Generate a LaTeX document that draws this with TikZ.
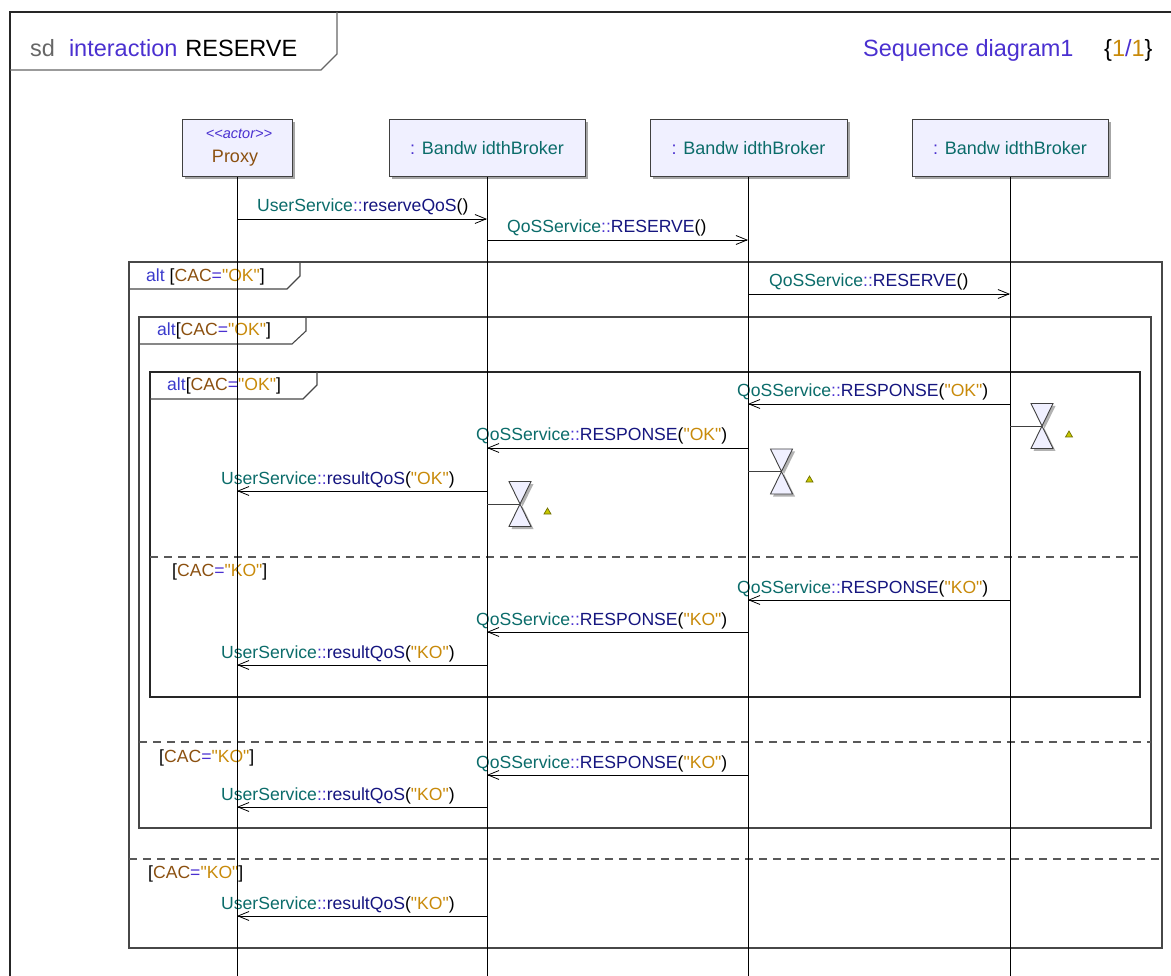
\documentclass[tikz,border=0pt]{standalone}
\usepackage{fontspec}
\setmainfont{Liberation Sans}[Ligatures=TeXOff]
\usetikzlibrary{arrows.meta,shadows}
\definecolor{cteal}{HTML}{0B6C6A}
\definecolor{cvio}{HTML}{4A30D0}
\definecolor{cnavy}{HTML}{15157F}
\definecolor{cgold}{HTML}{C88A0A}
\definecolor{cbrown}{HTML}{8B5010}
\definecolor{altblue}{HTML}{3A3ACC}
\definecolor{sdgray}{HTML}{666666}
\definecolor{headfill}{HTML}{F0F0FF}
\definecolor{triyel}{HTML}{C8C800}
\definecolor{triol}{HTML}{707000}
\newcommand{\uS}{\textcolor{cteal}{UserService}\textcolor{cvio}{::}}
\newcommand{\qS}{\textcolor{cteal}{QoSService}\textcolor{cvio}{::}}
\newcommand{\opn}[1]{\textcolor{cnavy}{#1}}
\newcommand{\okv}{\textcolor{cgold}{"OK"}}
\newcommand{\kov}{\textcolor{cgold}{"KO"}}
\newcommand{\guardtxt}[1]{[\textcolor{cbrown}{CAC}\textcolor{cvio}{=}\textcolor{cgold}{"#1"}]}
\newcommand{\bwtxt}{\textcolor{cvio}{:} \textcolor{cteal}{Bandw idthBroker}}
\begin{document}
\begin{tikzpicture}[x=1pt,y=-1pt,
  lab/.style={font=\fontsize{17.6}{19}\selectfont, inner sep=0pt, anchor=base west},
  title/.style={font=\fontsize{23.5}{25}\selectfont, inner sep=0pt, anchor=base west},
  head/.style={draw=black!75, fill=headfill, line width=1pt, minimum height=57pt, inner sep=0pt,
     font=\fontsize{18}{20}\selectfont,
     drop shadow={shadow xshift=2.5pt, shadow yshift=-2.5pt, fill=black!35, opacity=1}},
  life/.style={draw=black, line width=0.9pt},
  frm/.style={draw=black!72, line width=1.1pt},
  guard/.style={draw=black!65, line width=1.1pt, dash pattern=on 8pt off 6pt},
  msg/.style={draw=black, line width=0.9pt, -{Straight Barb[length=11pt,width=9pt,line width=0.8pt]}},
  hg/.style={draw=black!75, fill=headfill, line width=0.9pt},
  hgsh/.style={fill=black!30},
  tri/.style={draw=triol, fill=triyel, line width=0.7pt}
]
\useasboundingbox (0,0) rectangle (1171,976);

% outer sd frame
\draw[frm, draw=black!85] (10,976) -- (10,12) -- (1171,12);
\draw[frm, draw=black!60] (337,12) -- (337,54) -- (321,70) -- (10,70);
\node[title] (sdt) at (30,57) {\textcolor{sdgray}{sd}\hspace{14pt}\textcolor{cvio}{interaction}\hspace{8pt}RESERVE};
\node[title] (sdn) at (863,57) {\textcolor{cvio}{Sequence diagram1}};
\node[title] (pg) at (1104,57) {\{\textcolor{cgold}{1}\textcolor{cvio}{/}\textcolor{cgold}{1}\}};

% alt frames
\draw[frm] (129,262) rectangle (1162,948);
\draw[frm] (300,262) -- (300,276) -- (287,289) -- (129,289);
\node[lab] (a1) at (146,282) {\textcolor{altblue}{alt} \guardtxt{OK}};
\draw[guard] (129,859) -- (1162,859);
\node[lab] (g1) at (148,878) {\guardtxt{KO}};

\draw[frm] (139,317) rectangle (1151,828);
\draw[frm] (306,317) -- (306,331) -- (292,344) -- (139,344);
\node[lab] (a2) at (157,336) {\textcolor{altblue}{alt}\guardtxt{OK}};
\draw[guard] (139,742) -- (1151,742);
\node[lab] (g2) at (159,762) {\guardtxt{KO}};

\draw[frm, draw=black!85] (150,372) rectangle (1140,697);
\draw[frm] (317,372) -- (317,385) -- (303,399) -- (150,399);
\node[lab] (a3) at (167,391) {\textcolor{altblue}{alt}\guardtxt{OK}};
\draw[guard] (150,557) -- (1140,557);
\node[lab] (g3) at (172,576) {\guardtxt{KO}};

% lifeline heads
\node[head, minimum width=110pt] (L0) at (237,148.5) {};
\node[inner sep=0pt, font=\fontsize{14.5}{16}\selectfont\itshape, text=cvio] (st) at (239,134) {<<actor>>};
\node[inner sep=0pt, font=\fontsize{18}{20}\selectfont, text=cbrown] (px) at (235,158.5) {Proxy};
\node[head, minimum width=196pt] (L1) at (487,148.5) {\bwtxt};
\node[head, minimum width=197pt] (L2) at (748.5,148.5) {\bwtxt};
\node[head, minimum width=196pt] (L3) at (1010,148.5) {\bwtxt};

% message labels
\node[lab] (t1) at (257,212) {\uS\opn{reserveQoS}()};
\node[lab] (t2) at (507,233) {\qS\opn{RESERVE}()};
\node[lab] (t3) at (769,287) {\qS\opn{RESERVE}()};
\node[lab] (t4) at (737,397) {\qS\opn{RESPONSE}(\okv)};
\node[lab] (t5) at (476,441) {\qS\opn{RESPONSE}(\okv)};
\node[lab] (t6) at (221,484) {\uS\opn{resultQoS}(\okv)};
\node[lab] (t7) at (737,593) {\qS\opn{RESPONSE}(\kov)};
\node[lab] (t8) at (476,625) {\qS\opn{RESPONSE}(\kov)};
\node[lab] (t9) at (221,658) {\uS\opn{resultQoS}(\kov)};
\node[lab] (t10) at (476,768) {\qS\opn{RESPONSE}(\kov)};
\node[lab] (t11) at (221,800) {\uS\opn{resultQoS}(\kov)};
\node[lab] (t12) at (221,909) {\uS\opn{resultQoS}(\kov)};

% lifelines
\coordinate (E0) at (237,976);
\coordinate (E1) at (487,976);
\coordinate (E2) at (748,976);
\coordinate (E3) at (1010,976);
\draw[life] (L0.south) -- (L0.south |- E0);
\draw[life] (L1.south) -- (L1.south |- E1);
\draw[life] (E2 |- L2.south) -- (E2);
\draw[life] (L3.south) -- (L3.south |- E3);

% messages
\draw[msg] (E0 |- 0,219) -- (E1 |- 0,219);
\draw[msg] (E1 |- 0,240) -- (E2 |- 0,240);
\draw[msg] (E2 |- 0,294) -- (E3 |- 0,294);
\draw[msg] (E3 |- 0,404) -- (E2 |- 0,404);
\draw[msg] (E2 |- 0,448) -- (E1 |- 0,448);
\draw[msg] (E1 |- 0,491) -- (E0 |- 0,491);
\draw[msg] (E3 |- 0,600) -- (E2 |- 0,600);
\draw[msg] (E2 |- 0,632) -- (E1 |- 0,632);
\draw[msg] (E1 |- 0,665) -- (E0 |- 0,665);
\draw[msg] (E2 |- 0,775) -- (E1 |- 0,775);
\draw[msg] (E1 |- 0,807) -- (E0 |- 0,807);
\draw[msg] (E1 |- 0,916) -- (E0 |- 0,916);

% destruction / time markers (hourglasses)
\foreach \cx/\cy/\lx/\nm in {1042/426/1010/h3, 781.5/471.5/748/h2, 520/504/487/h1}{
  \coordinate (\nm) at (\cx,\cy);
  \draw[black!75, line width=0.9pt] (\lx,\cy) -- (\nm);
  \fill[hgsh] (\cx-11+2.5,\cy-22.5+2.5) -- (\cx+11+2.5,\cy-22.5+2.5) -- (\cx-11+2.5,\cy+22.5+2.5) -- (\cx+11+2.5,\cy+22.5+2.5) -- cycle;
  \draw[hg] (\cx-11,\cy-22.5) -- (\cx+11,\cy-22.5) -- (\cx-11,\cy+22.5) -- (\cx+11,\cy+22.5) -- cycle;
}
\foreach \tx/\ty in {1069/434, 809.5/479, 547.5/511}{
  \draw[tri] (\tx-3.5,\ty+3) -- (\tx+3.5,\ty+3) -- (\tx,\ty-3) -- cycle;
}
\end{tikzpicture}
\end{document}
